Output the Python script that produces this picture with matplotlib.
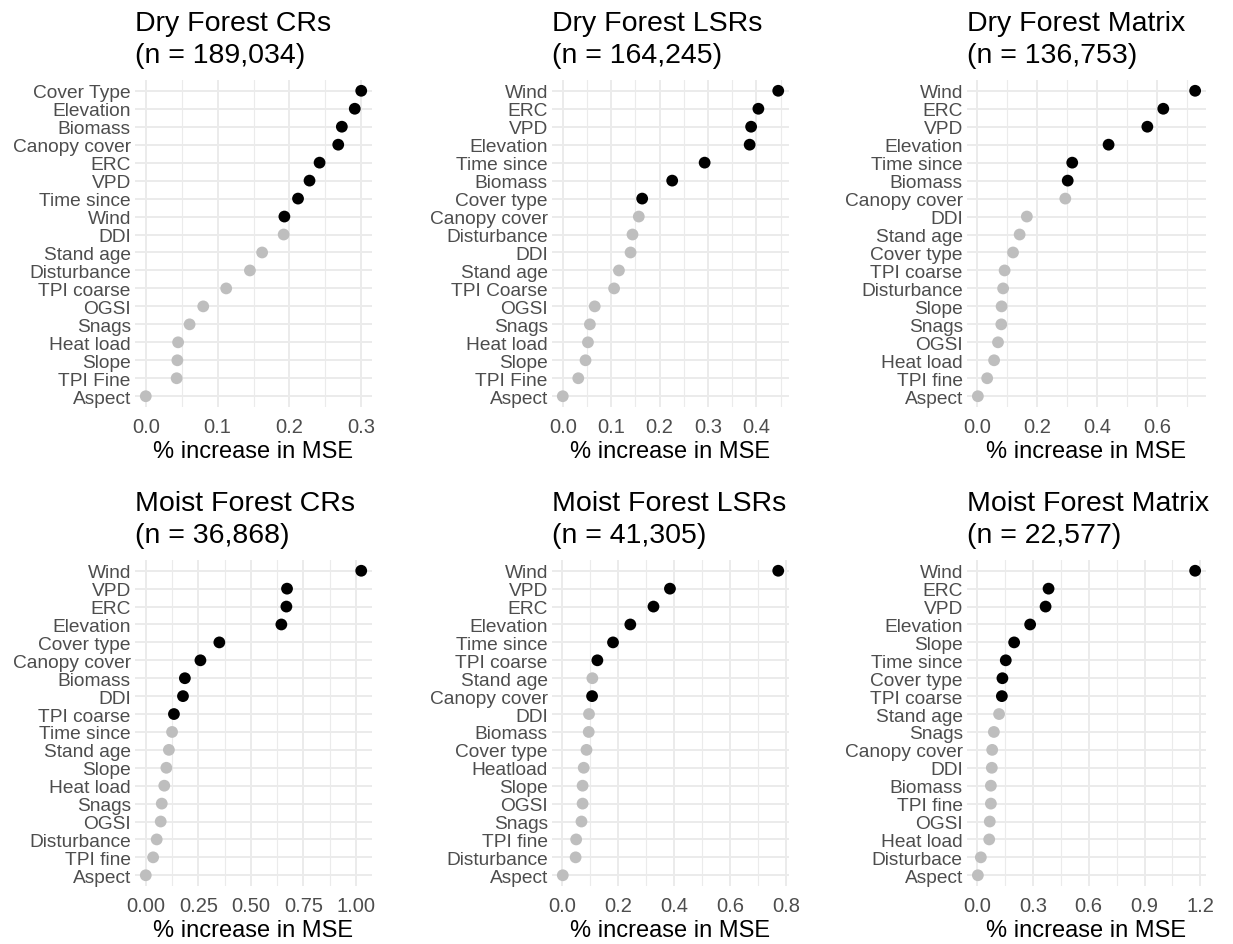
import numpy as np
import matplotlib.pyplot as plt
from matplotlib.ticker import MultipleLocator, FormatStrFormatter

plt.rcParams['font.family'] = ['Liberation Sans', 'DejaVu Sans']

# ---- data (top of each list = top row of the panel) ----
dry_cr_vars = ['Cover Type', 'Elevation', 'Biomass', 'Canopy cover', 'ERC', 'VPD',
               'Time since', 'Wind', 'DDI', 'Stand age', 'Disturbance', 'TPI coarse',
               'OGSI', 'Snags', 'Heat load', 'Slope', 'TPI Fine', 'Aspect']
dry_cr_mse = [0.300, 0.291, 0.273, 0.268, 0.242, 0.228, 0.212, 0.193, 0.192, 0.162,
              0.145, 0.112, 0.080, 0.061, 0.045, 0.044, 0.043, 0.0]
dry_cr_sig = [1, 1, 1, 1, 1, 1, 1, 1, 0, 0, 0, 0, 0, 0, 0, 0, 0, 0]

dry_lsr_vars = ['Wind', 'ERC', 'VPD', 'Elevation', 'Time since', 'Biomass', 'Cover type',
                'Canopy cover', 'Disturbance', 'DDI', 'Stand age', 'TPI Coarse', 'OGSI',
                'Snags', 'Heat load', 'Slope', 'TPI Fine', 'Aspect']
dry_lsr_mse = [0.445, 0.404, 0.389, 0.386, 0.293, 0.226, 0.164, 0.157, 0.144, 0.140,
               0.116, 0.106, 0.066, 0.056, 0.052, 0.047, 0.032, 0.0]
dry_lsr_sig = [1, 1, 1, 1, 1, 1, 1, 0, 0, 0, 0, 0, 0, 0, 0, 0, 0, 0]

dry_mat_vars = ['Wind', 'ERC', 'VPD', 'Elevation', 'Time since', 'Biomass', 'Canopy cover',
                'DDI', 'Stand age', 'Cover type', 'TPI coarse', 'Disturbance', 'Slope',
                'Snags', 'OGSI', 'Heat load', 'TPI fine', 'Aspect']
dry_mat_mse = [0.726, 0.620, 0.567, 0.438, 0.317, 0.302, 0.294, 0.166, 0.142, 0.120,
               0.092, 0.087, 0.082, 0.081, 0.070, 0.057, 0.034, 0.003]
dry_mat_sig = [1, 1, 1, 1, 1, 1, 0, 0, 0, 0, 0, 0, 0, 0, 0, 0, 0, 0]

moist_cr_vars = ['Wind', 'VPD', 'ERC', 'Elevation', 'Cover type', 'Canopy cover', 'Biomass',
                 'DDI', 'TPI coarse', 'Time since', 'Stand age', 'Slope', 'Heat load',
                 'Snags', 'OGSI', 'Disturbance', 'TPI fine', 'Aspect']
moist_cr_mse = [1.025, 0.672, 0.669, 0.645, 0.350, 0.260, 0.186, 0.177, 0.134, 0.125,
                0.110, 0.098, 0.088, 0.076, 0.071, 0.052, 0.035, 0.0]
moist_cr_sig = [1, 1, 1, 1, 1, 1, 1, 1, 1, 0, 0, 0, 0, 0, 0, 0, 0, 0]

moist_lsr_vars = ['Wind', 'VPD', 'ERC', 'Elevation', 'Time since', 'TPI coarse', 'Stand age',
                  'Canopy cover', 'DDI', 'Biomass', 'Cover type', 'Heatload', 'Slope',
                  'OGSI', 'Snags', 'TPI fine', 'Disturbance', 'Aspect']
moist_lsr_mse = [0.773, 0.385, 0.326, 0.243, 0.181, 0.125, 0.107, 0.106, 0.095, 0.094,
                 0.086, 0.076, 0.072, 0.072, 0.068, 0.049, 0.047, 0.001]
moist_lsr_sig = [1, 1, 1, 1, 1, 1, 0, 1, 0, 0, 0, 0, 0, 0, 0, 0, 0, 0]

moist_mat_vars = ['Wind', 'ERC', 'VPD', 'Elevation', 'Slope', 'Time since', 'Cover type',
                  'TPI coarse', 'Stand age', 'Snags', 'Canopy cover', 'DDI', 'Biomass',
                  'TPI fine', 'OGSI', 'Heat load', 'Disturbace', 'Aspect']
moist_mat_mse = [1.172, 0.384, 0.368, 0.285, 0.199, 0.154, 0.136, 0.133, 0.118, 0.090,
                 0.081, 0.079, 0.074, 0.074, 0.068, 0.065, 0.020, 0.004]
moist_mat_sig = [1, 1, 1, 1, 1, 1, 1, 1, 0, 0, 0, 0, 0, 0, 0, 0, 0, 0]

titles = ['Dry Forest CRs', 'Dry Forest LSRs', 'Dry Forest Matrix',
          'Moist Forest CRs', 'Moist Forest LSRs', 'Moist Forest Matrix']
n_obs = ['189,034', '164,245', '136,753', '36,868', '41,305', '22,577']
tick_step = [0.1, 0.1, 0.2, 0.25, 0.2, 0.3]
tick_fmt = ['%.1f', '%.1f', '%.1f', '%.2f', '%.1f', '%.1f']

panels = [(dry_cr_vars, dry_cr_mse, dry_cr_sig),
          (dry_lsr_vars, dry_lsr_mse, dry_lsr_sig),
          (dry_mat_vars, dry_mat_mse, dry_mat_sig),
          (moist_cr_vars, moist_cr_mse, moist_cr_sig),
          (moist_lsr_vars, moist_lsr_mse, moist_lsr_sig),
          (moist_mat_vars, moist_mat_mse, moist_mat_sig)]

# panel boxes in pixels: left, right, top, bottom
W, H = 1233, 945
lefts = [135, 552, 967]
rights = [372, 789, 1206]
rows = [(81, 408, 31, 63), (561, 887, 511, 543)]

fig = plt.figure(figsize=(W / 100, H / 100), dpi=100)

for i, (vars_, mse, sig) in enumerate(panels):
    r, c = divmod(i, 3)
    top, bot, t1, t2 = rows[r]
    l, rr = lefts[c], rights[c]
    ax = fig.add_axes([l / W, 1 - bot / H, (rr - l) / W, (bot - top) / H])

    n = len(vars_)
    y = np.arange(n, 0, -1)
    cols = ['#000000' if s else '#BEBEBE' for s in sig]
    ax.scatter(mse, y, c=cols, s=72, linewidths=0, zorder=3)

    ax.set_ylim(0.4, n + 0.6)
    ax.set_yticks(y)
    ax.set_yticklabels(vars_)
    ax.margins(x=0.05)
    ax.xaxis.set_major_locator(MultipleLocator(tick_step[i]))
    ax.xaxis.set_minor_locator(MultipleLocator(tick_step[i] / 2))
    ax.xaxis.set_major_formatter(FormatStrFormatter(tick_fmt[i]))

    ax.grid(which='major', color='#EBEBEB', lw=1.4, zorder=0)
    ax.grid(which='minor', axis='x', color='#EBEBEB', lw=0.8, zorder=0)
    ax.set_axisbelow(True)
    for s in ax.spines.values():
        s.set_visible(False)
    ax.tick_params(which='both', length=0, labelcolor='#4D4D4D')
    ax.tick_params(axis='x', pad=7, labelsize=14.5)
    ax.tick_params(axis='y', pad=3, labelsize=13.8)
    ax.set_xlabel('% increase in MSE', fontsize=17, labelpad=3)

    fig.text(l / W, 1 - t1 / H, titles[i], fontsize=20.5, va='baseline', ha='left')
    fig.text(l / W, 1 - t2 / H, '(n = %s)' % n_obs[i], fontsize=20.5, va='baseline', ha='left')

fig.savefig('out.png', dpi=100, facecolor='white')
